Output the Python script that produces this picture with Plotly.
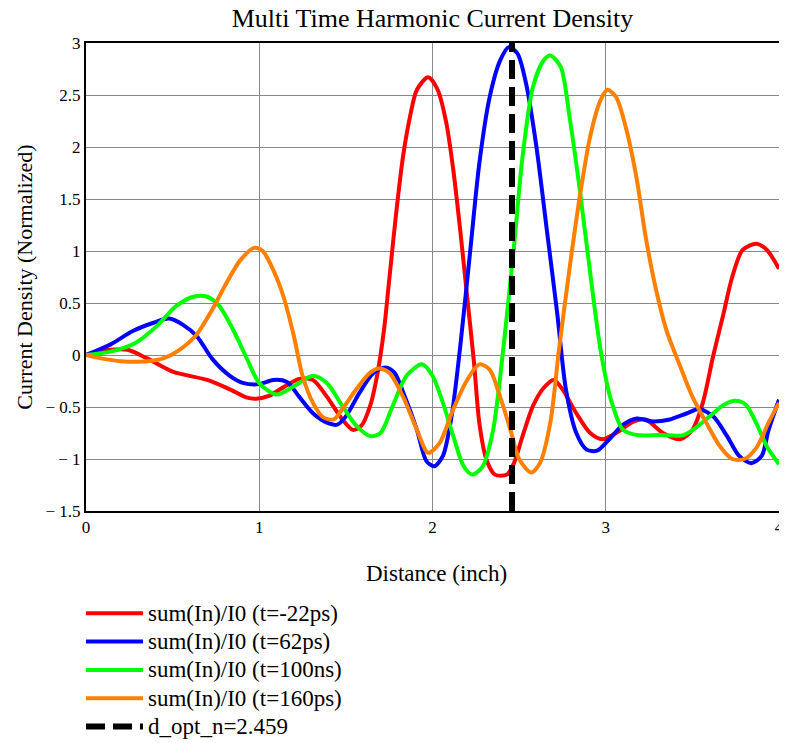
import plotly.graph_objects as go

# digitised samples of the four normalised current density curves
red_x = [0, 0.14, 0.24, 0.35, 0.50, 0.70, 0.83, 0.93, 0.98, 1.06, 1.12, 1.23, 1.31, 1.39, 1.48, 1.54, 1.59,
         1.64, 1.68, 1.72, 1.75, 1.79, 1.83, 1.87, 1.91, 1.975, 2.03, 2.08, 2.12, 2.16, 2.20, 2.24, 2.27,
         2.31, 2.36, 2.43, 2.47, 2.52, 2.58, 2.64, 2.70, 2.75, 2.83, 2.91, 2.98, 3.06, 3.16, 3.23, 3.33,
         3.43, 3.50, 3.56, 3.62, 3.68, 3.73, 3.79, 3.87, 3.93, 4.0]
red_y = [0, 0.05, 0.05, -0.03, -0.16, -0.24, -0.33, -0.41, -0.42, -0.39, -0.33, -0.23, -0.24, -0.40, -0.62,
         -0.72, -0.68, -0.49, -0.20, 0.24, 0.72, 1.36, 1.91, 2.29, 2.55, 2.67, 2.55, 2.23, 1.78, 1.20, 0.56,
         -0.08, -0.65, -1.00, -1.15, -1.15, -1.04, -0.78, -0.49, -0.32, -0.24, -0.33, -0.56, -0.75, -0.81,
         -0.75, -0.64, -0.62, -0.75, -0.81, -0.72, -0.46, -0.01, 0.40, 0.75, 1.01, 1.07, 1.01, 0.83]

blue_x = [0, 0.14, 0.27, 0.39, 0.48, 0.56, 0.64, 0.73, 0.83, 0.91, 1.00, 1.08, 1.16, 1.23, 1.31, 1.39, 1.45,
          1.50, 1.58, 1.66, 1.73, 1.78, 1.84, 1.91, 1.965, 2.01, 2.06, 2.11, 2.16, 2.22, 2.27, 2.33, 2.39,
          2.44, 2.49, 2.54, 2.60, 2.66, 2.72, 2.77, 2.83, 2.89, 2.95, 3.02, 3.10, 3.18, 3.27, 3.37, 3.47,
          3.54, 3.62, 3.70, 3.77, 3.84, 3.90, 3.94, 4.0]
blue_y = [0, 0.10, 0.23, 0.31, 0.35, 0.29, 0.18, -0.04, -0.20, -0.27, -0.28, -0.24, -0.26, -0.40, -0.56,
          -0.65, -0.67, -0.59, -0.36, -0.17, -0.12, -0.17, -0.40, -0.72, -1.02, -1.07, -0.97, -0.59, 0.08,
          1.04, 1.84, 2.48, 2.83, 2.96, 2.90, 2.61, 2.00, 1.20, 0.40, -0.33, -0.75, -0.91, -0.92, -0.81,
          -0.67, -0.61, -0.64, -0.62, -0.56, -0.52, -0.59, -0.78, -0.97, -1.04, -0.97, -0.72, -0.43]

green_x = [0, 0.16, 0.29, 0.41, 0.52, 0.62, 0.70, 0.77, 0.85, 0.93, 1.00, 1.10, 1.20, 1.31, 1.39, 1.48,
           1.56, 1.64, 1.70, 1.77, 1.85, 1.94, 2.00, 2.06, 2.12, 2.18, 2.23, 2.29, 2.35, 2.41, 2.47, 2.52,
           2.58, 2.64, 2.68, 2.74, 2.79, 2.85, 2.91, 2.97, 3.03, 3.10, 3.18, 3.31, 3.45, 3.52, 3.60, 3.68,
           3.75, 3.81, 3.87, 3.93, 4.0]
green_y = [0, 0.04, 0.12, 0.28, 0.47, 0.56, 0.56, 0.47, 0.24, -0.04, -0.27, -0.38, -0.30, -0.20, -0.27,
           -0.49, -0.68, -0.78, -0.75, -0.49, -0.20, -0.09, -0.20, -0.46, -0.78, -1.07, -1.15, -1.07,
           -0.72, 0.08, 1.04, 1.91, 2.58, 2.83, 2.88, 2.77, 2.30, 1.59, 0.79, 0.05, -0.43, -0.72, -0.77,
           -0.77, -0.77, -0.70, -0.59, -0.48, -0.44, -0.48, -0.66, -0.88, -1.05]

orange_x = [0, 0.08, 0.20, 0.35, 0.45, 0.54, 0.64, 0.73, 0.81, 0.89, 0.97, 1.02, 1.08, 1.14, 1.20, 1.25,
            1.31, 1.37, 1.43, 1.48, 1.56, 1.64, 1.69, 1.75, 1.83, 1.91, 1.975, 2.04, 2.12, 2.20, 2.27, 2.33,
            2.39, 2.45, 2.50, 2.57, 2.62, 2.68, 2.73, 2.79, 2.85, 2.91, 2.97, 3.01, 3.06, 3.12, 3.18, 3.23,
            3.29, 3.35, 3.43, 3.50, 3.58, 3.66, 3.73, 3.80, 3.87, 3.94, 4.0]
orange_y = [0, -0.03, -0.06, -0.06, -0.03, 0.05, 0.20, 0.44, 0.69, 0.91, 1.03, 1.00, 0.82, 0.56, 0.18,
            -0.20, -0.46, -0.60, -0.62, -0.52, -0.33, -0.17, -0.13, -0.17, -0.40, -0.72, -0.94, -0.85,
            -0.52, -0.24, -0.09, -0.14, -0.40, -0.72, -1.00, -1.13, -1.04, -0.65, 0.05, 0.82, 1.52, 2.10,
            2.45, 2.55, 2.48, 2.16, 1.68, 1.14, 0.63, 0.24, -0.11, -0.40, -0.65, -0.88, -1.00, -1.00, -0.89,
            -0.65, -0.46]

d_opt = 2.459
y_range = [-1.5, 3]
y_ticks = [3, 2.5, 2, 1.5, 1, 0.5, 0, -0.5, -1, -1.5]
y_tick_text = ["3", "2.5", "2", "1.5", "1", "0.5", "0", "\u2212 0.5", "\u2212 1", "\u2212 1.5"]
x_ticks = [0, 1, 2, 3, 4]

series = [
    ("sum(In)/I0 (t=-22ps)", red_x, red_y, "#ff0000"),
    ("sum(In)/I0 (t=62ps)", blue_x, blue_y, "#0000ff"),
    ("sum(In)/I0 (t=100ns)", green_x, green_y, "#00ff00"),
    ("sum(In)/I0 (t=160ps)", orange_x, orange_y, "#ff8000"),
]

# legend text drawn a bit larger than the legend row height font
def big(label):
    return '<span style="font-size:23px">' + label + "</span>"

fig = go.Figure()
for name, xs, ys, color in series:
    fig.add_trace(go.Scatter(x=xs, y=ys, name=big(name), mode="lines",
                             line=dict(color=color, width=4, shape="spline", smoothing=0.8)))

fig.add_trace(go.Scatter(x=[d_opt, d_opt], y=y_range, name=big("d_opt_n=2.459"), mode="lines",
                         line=dict(color="black", width=6, dash="19px,8px")))

# page body has an 8px margin, so the figure is drawn 8px in from the window corner
W, H = 779, 735
font = "Liberation Serif, Times New Roman, serif"
fig.update_layout(
    width=W, height=H,
    margin=dict(l=78, r=8, t=35, b=232, autoexpand=False),
    paper_bgcolor="white", plot_bgcolor="white",
    font=dict(family=font, size=17, color="black"),
    title=dict(text="Multi Time Harmonic Current Density", x=(78 + 771) / 2 / W, xanchor="center",
               yref="container", y=1 - 10 / H, yanchor="middle", font=dict(size=26)),
    showlegend=True,
    legend=dict(xref="container", yref="container", x=73 / W, xanchor="left", y=1 - 586 / H,
                yanchor="top", font=dict(size=19.5), itemwidth=57, tracegroupgap=0,
                bgcolor="rgba(0,0,0,0)"),
    annotations=[
        dict(text="Distance (inch)", xref="paper", yref="paper", x=0.506, y=-0.1325,
             xanchor="center", yanchor="middle", showarrow=False, font=dict(size=23)),
        dict(text="Current Density (Normalized)", xref="paper", yref="paper", x=-0.09, y=0.5,
             xanchor="center", yanchor="middle", textangle=-90, showarrow=False, font=dict(size=22)),
    ],
)
fig.update_xaxes(range=[0, 4], tickvals=x_ticks, showgrid=True, gridcolor="#888888", gridwidth=1,
                 zeroline=False, showline=True, linecolor="black", linewidth=2, mirror=True,
                 ticks="", tickfont=dict(size=17), automargin=False, ticklabeloverflow="allow")
fig.update_yaxes(range=y_range, tickvals=y_ticks, ticktext=y_tick_text, showgrid=True,
                 gridcolor="#888888", gridwidth=1, zeroline=False, showline=True, linecolor="black",
                 linewidth=2, mirror=True, ticks="", tickfont=dict(size=17), automargin=False)

fig.write_html("out.html")
